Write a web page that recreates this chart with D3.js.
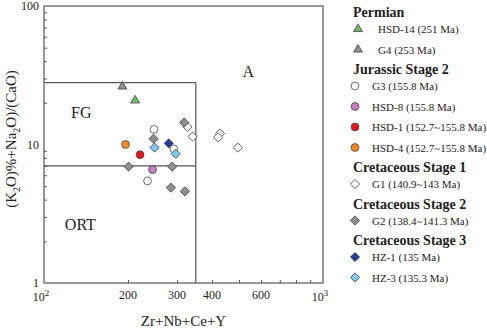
<!DOCTYPE html>
<html>
<head>
<meta charset="utf-8">
<script src="https://cdn.jsdelivr.net/npm/d3@7"></script>
<style>
  body { margin: 0; background: #fff; }
</style>
</head>
<body>
<script>
// sample points: [Zr+Nb+Ce+Y, (K2O+Na2O)/CaO]
var hsd14 = [[212, 20.8]];
var g4 = [[191, 26.2]];
var g3 = [[248, 12.85], [292, 9.3], [235, 5.46]];
var hsd8 = [[245, 6.58]];
var hsd1 = [[221, 8.44]];
var hsd4 = [[196, 10.0]];
var g1 = [[327, 13.4], [341, 11.4], [427, 12.0], [421, 11.25], [495, 9.5]];
var g2 = [[318, 14.4], [247, 11.0], [201, 6.92], [288, 6.92], [285, 4.88], [320, 4.59]];
var hz1 = [[280, 10.2]];
var hz3 = [[249, 9.5], [296.5, 8.58]];

var xTicks = [200, 300, 400, 500, 600, 700, 800, 900];
var xTickLabels = {200: "200", 300: "300", 400: "400", 600: "600"};
var yTicks = [2, 3, 4, 5, 6, 7, 8, 9, 20, 30, 40, 50, 60, 70, 80, 90];
var yTickLabels = [1, 10, 100];

// field boundaries
var fgX = 350, fgTop = 28, ortTop = 7;

var groups = [
  { title: "Permian", items: [
    { name: "HSD-14 (251 Ma)", shape: "triangle", fill: "#6dbb6b", data: hsd14 },
    { name: "G4 (253 Ma)", shape: "triangle", fill: "#8f8f8f", data: g4 }
  ]},
  { title: "Jurassic Stage 2", items: [
    { name: "G3 (155.8 Ma)", shape: "circle", fill: "#ffffff", data: g3 },
    { name: "HSD-8 (155.8 Ma)", shape: "circle", fill: "#c77dc2", data: hsd8 },
    { name: "HSD-1 (152.7~155.8 Ma)", shape: "circle", fill: "#e8141c", data: hsd1 },
    { name: "HSD-4 (152.7~155.8 Ma)", shape: "circle", fill: "#f28a24", data: hsd4 }
  ]},
  { title: "Cretaceous Stage 1", items: [
    { name: "G1 (140.9~143 Ma)", shape: "diamond", fill: "#ffffff", data: g1 }
  ]},
  { title: "Cretaceous Stage 2", items: [
    { name: "G2 (138.4~141.3 Ma)", shape: "diamond", fill: "#8f8f8f", data: g2 }
  ]},
  { title: "Cretaceous Stage 3", items: [
    { name: "HZ-1 (135 Ma)", shape: "diamond", fill: "#1f3f99", data: hz1 },
    { name: "HZ-3  (135.3 Ma)", shape: "diamond", fill: "#7fcaec", data: hz3 }
  ]}
];

var width = 487, height = 328;
var margin = { left: 44, top: 6, right: 164, bottom: 45 };

var svg = d3.select("body").append("svg")
  .attr("width", width)
  .attr("height", height);

// every text gets the serif face directly
function txt(parent) {
  return parent.append("text").style("font-family", "Liberation Serif").attr("fill", "#222");
}

var x = d3.scaleLog().domain([100, 1000]).range([margin.left, width - margin.right]);
var y = d3.scaleLog().domain([1, 100]).range([height - margin.bottom, margin.top]);

var axisColor = "#555";

// inward ticks
svg.append("g")
  .attr("transform", "translate(0," + y(1) + ")")
  .call(d3.axisBottom(x).tickValues(xTicks).tickSize(-3).tickFormat(""))
  .call(function (g) { g.select(".domain").remove(); g.selectAll("line").attr("stroke", axisColor); });

svg.append("g")
  .attr("transform", "translate(" + x(100) + ",0)")
  .call(d3.axisLeft(y).tickValues(yTicks).tickSize(-3).tickFormat(""))
  .call(function (g) { g.select(".domain").remove(); g.selectAll("line").attr("stroke", axisColor); });

// frame
svg.append("rect")
  .attr("x", x(100)).attr("y", y(100))
  .attr("width", x(1000) - x(100)).attr("height", y(1) - y(100))
  .attr("fill", "none").attr("stroke", axisColor).attr("stroke-width", 1.2);

// field boundaries
var fieldLines = [
  [[100, fgTop], [fgX, fgTop]],
  [[fgX, fgTop], [fgX, 1]],
  [[100, ortTop], [fgX, ortTop]]
];
svg.selectAll(".field").data(fieldLines).enter().append("line")
  .attr("x1", function (d) { return x(d[0][0]); })
  .attr("y1", function (d) { return y(d[0][1]); })
  .attr("x2", function (d) { return x(d[1][0]); })
  .attr("y2", function (d) { return y(d[1][1]); })
  .attr("stroke", axisColor).attr("stroke-width", 1.2);

// field labels
txt(svg).attr("x", x(136)).attr("y", y(15.5)).attr("text-anchor", "middle")
  .attr("font-size", 16).text("FG");
txt(svg).attr("x", x(540)).attr("y", y(30.5)).attr("text-anchor", "middle")
  .attr("font-size", 16).text("A");
txt(svg).attr("x", x(135)).attr("y", y(2.4)).attr("text-anchor", "middle")
  .attr("font-size", 16).text("ORT");

// tick labels
xTicks.filter(function (t) { return xTickLabels[t]; }).forEach(function (d) {
  txt(svg).attr("x", x(d)).attr("y", y(1) + 16)
    .attr("text-anchor", "middle").attr("font-size", 12)
    .text(xTickLabels[d]);
});

[[100, "2"], [1000, "3"]].forEach(function (p) {
  var t = txt(svg).attr("x", x(p[0]) - 3).attr("y", y(1) + 18)
    .attr("text-anchor", "middle").attr("font-size", 12);
  t.append("tspan").text("10");
  t.append("tspan").attr("dy", -5).attr("font-size", 9).text(p[1]);
});

yTickLabels.forEach(function (d) {
  txt(svg).attr("x", x(100) - 5).attr("y", y(d) + 4)
    .attr("text-anchor", "end").attr("font-size", 12)
    .text(d);
});

// axis titles
txt(svg).attr("x", (x(100) + x(1000)) / 2).attr("y", 326)
  .attr("text-anchor", "middle").attr("font-size", 15).text("Zr+Nb+Ce+Y");

var yt = txt(svg)
  .attr("transform", "translate(16," + 139 + ") rotate(-90)")
  .attr("text-anchor", "middle").attr("font-size", 15);
yt.append("tspan").text("(K");
yt.append("tspan").attr("font-size", 10).attr("dy", 4).text("2");
yt.append("tspan").attr("dy", -4).text("O)%+Na");
yt.append("tspan").attr("font-size", 10).attr("dy", 4).text("2");
yt.append("tspan").attr("dy", -4).text("O)/(CaO)");

// marker drawing
var symbols = { triangle: d3.symbolTriangle, circle: d3.symbolCircle, diamond: d3.symbolSquare };
function marker(sel, shape, fill) {
  var size = shape === "circle" ? 48 : shape === "triangle" ? 34 : 42;
  sel.append("path")
    .attr("d", d3.symbol().type(symbols[shape]).size(size))
    .attr("transform", shape === "diamond" ? "rotate(45)" : null)
    .attr("fill", fill)
    .attr("stroke", "#444")
    .attr("stroke-width", 0.8);
}

// draw points in order: G1, G3, G2, triangles, others
var drawOrder = [
  groups[2].items[0], groups[1].items[0], groups[3].items[0], groups[0].items[1], groups[0].items[0],
  groups[1].items[1], groups[1].items[2], groups[1].items[3], groups[4].items[0], groups[4].items[1]
];
drawOrder.forEach(function (item) {
  svg.append("g").selectAll("g").data(item.data).enter().append("g")
    .attr("transform", function (d) { return "translate(" + x(d[0]) + "," + y(d[1]) + ")"; })
    .each(function () { marker(d3.select(this), item.shape, item.fill); });
});

// legend
var legend = svg.append("g");
var ly = 17;
groups.forEach(function (grp) {
  txt(legend).attr("x", 353).attr("y", ly)
    .attr("font-size", 14).attr("font-weight", "bold").text(grp.title);
  ly += 12.5;
  grp.items.forEach(function (item) {
    var tri = item.shape === "triangle";
    var g = legend.append("g").attr("transform", "translate(" + (tri ? 358 : 355) + "," + (ly - 0.5) + ")");
    marker(g, item.shape, item.fill);
    txt(legend).attr("x", tri ? 378 : 372).attr("y", ly + 3.5)
      .attr("font-size", 11).text(item.name);
    ly += 20.5;
  });
  ly += 3.5;
});
</script>
</body>
</html>
